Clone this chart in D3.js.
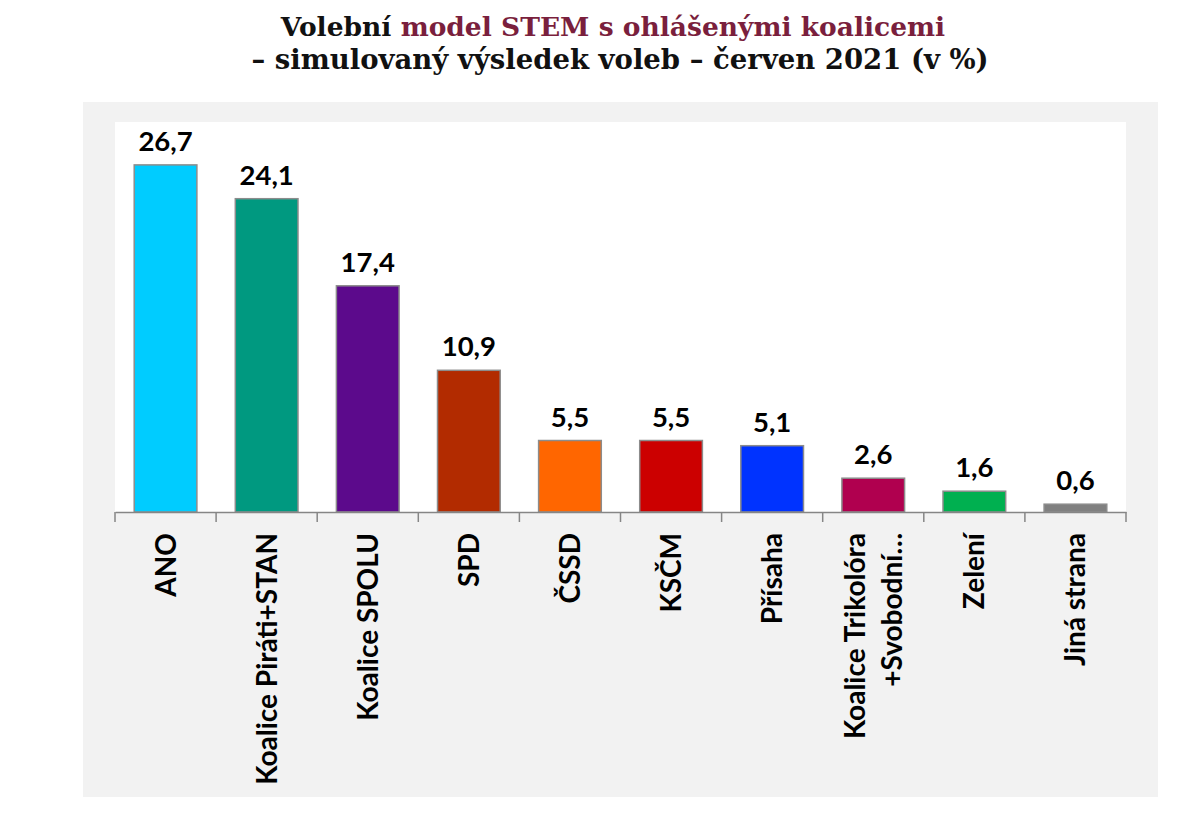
<!DOCTYPE html>
<html><head><meta charset="utf-8">
<script src="https://cdn.jsdelivr.net/npm/d3@7"></script>
<style>body{margin:0;background:#fff}svg{display:block}</style>
</head><body>
<svg id="c" width="1200" height="832"></svg>
<script>
const categories = ["ANO","Koalice Piráti+STAN","Koalice SPOLU","SPD","ČSSD","KSČM","Přísaha","Koalice Trikolóra +Svobodní…","Zelení","Jiná strana"];
const values = [26.7,24.1,17.4,10.9,5.5,5.5,5.1,2.6,1.6,0.6];
const colors = ["#00ccff","#009980","#5c0a8c","#b22b00","#ff6600","#cc0000","#0033ff","#b0004f","#00b050","#808080"];
const labelLines = [["ANO"],["Koalice Piráti+STAN"],["Koalice SPOLU"],["SPD"],["ČSSD"],["KSČM"],["Přísaha"],["Koalice Trikolóra","+Svobodní…"],["Zelení"],["Jiná strana"]];

const svg = d3.select("#c");
// panel
svg.append("rect").attr("x",83).attr("y",102).attr("width",1075).attr("height",695).attr("fill","#f2f2f2");
const plot = {l:115,r:1126,t:122,b:512};
svg.append("rect").attr("x",plot.l).attr("y",plot.t).attr("width",plot.r-plot.l).attr("height",plot.b-plot.t).attr("fill","#fff");

const x = d3.scaleBand().domain(categories).range([plot.l,plot.r]).paddingInner(0.38).paddingOuter(0.19);
const xb = d3.scaleBand().domain(categories).range([plot.l,plot.r]);
const y = d3.scaleLinear().domain([0,30]).range([plot.b,plot.t]);

// bars
svg.append("g").selectAll("rect").data(values).join("rect")
  .attr("x",(d,i)=>x(categories[i])).attr("width",x.bandwidth())
  .attr("y",d=>y(d)).attr("height",d=>y(0)-y(d))
  .attr("fill",(d,i)=>colors[i]).attr("stroke","#8c8c8c").attr("stroke-width",1.5);

// value labels
svg.append("g").selectAll("text").data(values).join("text")
  .attr("x",(d,i)=>x(categories[i])+x.bandwidth()/2).attr("y",d=>y(d)-14)
  .attr("text-anchor","middle").attr("font-family","Lato, 'Open Sans', sans-serif")
  .attr("font-weight","bold").attr("font-size",27.5).attr("fill","#000")
  .text(d=>d.toFixed(1).replace(".",","));

// axis
const ax = svg.append("g").attr("transform",`translate(0,${plot.b})`)
  .call(d3.axisBottom(xb).tickSize(0).tickFormat(""));
ax.select(".domain").attr("stroke","#868686").attr("stroke-width",1.5);
const bounds = categories.map(c=>xb(c)).concat([plot.r]);
svg.append("g").selectAll("line").data(bounds).join("line")
  .attr("x1",d=>d).attr("x2",d=>d).attr("y1",plot.b).attr("y2",plot.b+10)
  .attr("stroke","#868686").attr("stroke-width",1.5);

// category labels
const lg = svg.append("g");
categories.forEach((c,i)=>{
  const lines = labelLines[i];
  const cx = xb(c)+xb.bandwidth()/2;
  const sp = 37;
  lines.forEach((ln,j)=>{
    const off = (j-(lines.length-1)/2)*sp;
    lg.append("text")
      .attr("transform",`translate(${cx+off+10},533) rotate(-90)`)
      .attr("text-anchor","end").attr("font-family","Lato, 'Open Sans', sans-serif")
      .attr("font-weight","bold").attr("font-size",28).attr("fill","#000").text(ln);
  });
});

// title
const t1 = svg.append("text").attr("x",613).attr("y",36).attr("text-anchor","middle")
  .attr("font-family","'DejaVu Serif', serif").attr("font-weight","bold").attr("font-size",26.5);
t1.append("tspan").attr("fill","#111").text("Volební ");
t1.append("tspan").attr("fill","#7a1f3d").text("model STEM s ohlášenými koalicemi");
svg.append("text").attr("x",620).attr("y",69).attr("text-anchor","middle")
  .attr("font-family","'DejaVu Serif', serif").attr("font-weight","bold").attr("font-size",27.5)
  .attr("fill","#111").text("– simulovaný výsledek voleb – červen 2021 (v %)");
</script>
</body></html>
